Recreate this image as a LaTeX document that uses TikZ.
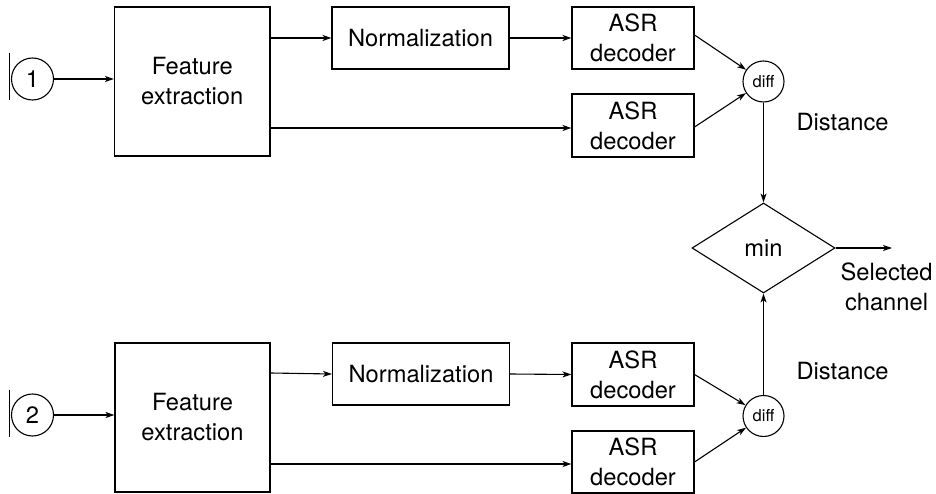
\documentclass[tikz,border=0pt]{standalone}
\usepackage{fontspec}
\setmainfont{TeX Gyre Heros}
\usetikzlibrary{arrows.meta,shapes.geometric,calc}

\begin{document}
\begin{tikzpicture}[x=1pt,y=-1pt,
  every node/.style={font=\fontsize{23.7}{30}\selectfont, line width=1.1pt},
  blockbox/.style={draw, rectangle, inner sep=0pt, align=center},
  mic/.style={draw, circle, minimum size=42pt, inner sep=0pt},
  diffnode/.style={draw, circle, minimum size=41pt, inner sep=0pt,
    font=\fontsize{16.5}{19}\selectfont},
  arr/.style={line width=1.1pt, -{Stealth[length=9pt,width=6pt,inset=2.5pt]}},
  plain/.style={line width=1.1pt}]

\useasboundingbox (0,0) rectangle (936,494);

% ---- channel 1 ----
\node[mic] (m1) at (32.5,79) {1};
\node[blockbox, minimum width=155.5pt, minimum height=149pt] (fe1) at (192.25,81.5) {Feature\\extraction};
\node[blockbox, minimum width=177pt, minimum height=62pt] (n1) at (420.5,38) {Normalization};
\node[blockbox, minimum width=122pt, minimum height=62pt] (a1) at (633,38) {ASR\\decoder};
\node[blockbox, minimum width=122pt, minimum height=63pt] (a2) at (633,125.5) {ASR\\decoder};
\node[diffnode] (d1) at (763.5,81.5) {diff};

% ---- channel 2 ----
\node[mic] (m2) at (32.5,415) {2};
\node[blockbox, minimum width=155pt, minimum height=149pt] (fe2) at (192.5,417.5) {Feature\\extraction};
\node[blockbox, minimum width=177pt, minimum height=62pt] (n2) at (421,374) {Normalization};
\node[blockbox, minimum width=122pt, minimum height=63pt] (a3) at (633,374.5) {ASR\\decoder};
\node[blockbox, minimum width=122pt, minimum height=62pt] (a4) at (633,462) {ASR\\decoder};
\node[diffnode] (d2) at (763.5,416) {diff};

% ---- selection ----
\node[draw, diamond, minimum width=143pt, minimum height=90pt, inner sep=0pt] (mn) at (763.5,248) {min};
\coordinate (out) at (892,248);
\node[anchor=north, inner sep=0pt, align=center] (sel) at (886.5,262.5) {Selected\\channel};
\node[anchor=base west, inner sep=0pt] (dist1) at (796,131) {Distance};
\node[anchor=base west, inner sep=0pt] (dist2) at (796,379) {Distance};

% microphone bars
\draw[plain] ($(m1.west)+(-1.5,-25.5)$) -- ($(m1.west)+(-1.5,21.5)$);
\draw[plain] ($(m2.west)+(-1.5,-25.5)$) -- ($(m2.west)+(-1.5,21.5)$);

% connections, channel 1
\draw[arr] (m1.east) -- (m1.east -| fe1.west);
\draw[arr] (n1.west -| fe1.east) -- (n1.west);
\draw[arr] ($(fe1.east)+(0,46.5)$) -- ($(a2.west)+(0,2.5)$);
\draw[arr] (n1.east) -- (a1.west);
\draw[arr] ($(a1.east)+(0,-3)$) -- (d1);
\draw[arr] ($(a2.east)+(0,1.5)$) -- (d1);
\draw[arr] (d1.south) -- (mn.north);

% connections, channel 2
\draw[arr] (m2.east) -- (m2.east -| fe2.west);
\draw[arr] ($(fe2.east)+(0,-44.5)$) -- (n2.west);
\draw[arr] ($(fe2.east)+(0,46.5)$) -- ($(a4.west)+(0,2)$);
\draw[arr] (n2.east) -- (a3.west);
\draw[arr] (a3.east) -- (d2);
\draw[arr] (a4.east) -- (d2);
\draw[arr] (d2.north) -- (mn.south);

% output
\draw[arr] (mn.east) -- (out);
\end{tikzpicture}
\end{document}
